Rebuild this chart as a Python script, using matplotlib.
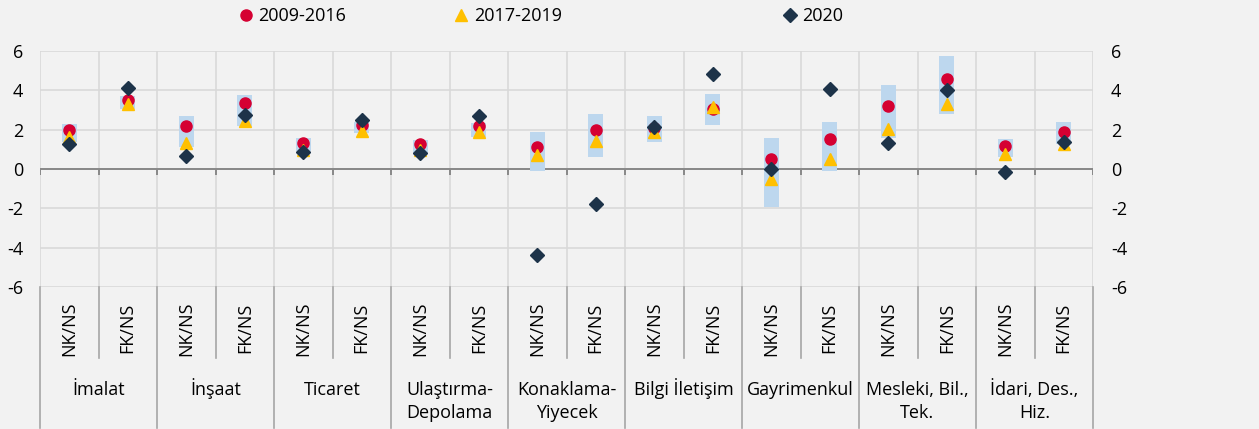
import numpy as np
import matplotlib
matplotlib.use("Agg")
import matplotlib.pyplot as plt
from matplotlib.lines import Line2D
import matplotlib.transforms as mtransforms

plt.rcParams['font.family'] = ['Open Sans', 'DejaVu Sans']
plt.rcParams['axes.unicode_minus'] = False

groups = ['İmalat', 'İnşaat', 'Ticaret', 'Ulaştırma-\nDepolama', 'Konaklama-\nYiyecek',
          'Bilgi İletişim', 'Gayrimenkul', 'Mesleki, Bil.,\nTek.', 'İdari, Des.,\nHiz.']
sub_labels = ['NK/NS', 'FK/NS'] * 9

# 2009-2016 (circle), 2017-2019 (triangle), 2020 (diamond)
s_0916 = [1.98, 3.50, 2.20, 3.36, 1.33, 2.23, 1.27, 2.18, 1.13,
          1.98, 2.06, 3.07, 0.49, 1.54, 3.19, 4.56, 1.18, 1.89]
s_1719 = [1.64, 3.30, 1.30, 2.45, 0.96, 1.93, 0.95, 1.86, 0.71,
          1.44, 1.89, 3.16, -0.51, 0.51, 2.04, 3.33, 0.74, 1.27]
s_2020 = [1.25, 4.14, 0.68, 2.77, 0.88, 2.50, 0.79, 2.69, -4.37,
          -1.76, 2.15, 4.85, -0.02, 4.09, 1.30, 4.00, -0.15, 1.37]
# min-max range band
band_top = [2.31, 3.70, 2.67, 3.78, 1.60, 2.40, 1.50, 2.35, 1.88,
            2.82, 2.67, 3.83, 1.60, 2.40, 4.26, 5.74, 1.55, 2.40]
band_bot = [1.38, 3.07, 1.13, 2.18, 0.93, 1.84, 0.83, 1.64, -0.10,
            0.62, 1.38, 2.23, -1.93, -0.08, 1.60, 2.80, 0.62, 1.27]

bg = '#f2f2f2'
c_red = '#d50032'
c_yel = '#ffc000'
c_nav = '#1d3349'
c_band = '#bdd7ee'
c_grid = '#d9d9d9'
fs = 13

fig = plt.figure(figsize=(12.59, 4.29), dpi=100, facecolor=bg)
ax = fig.add_axes([40/1259, 142/429, 1053/1259, 236/429])
ax.set_facecolor(bg)

x = np.arange(len(s_0916))
bounds = np.arange(-0.5, len(x) + 0.5, 1)

ax.set_xlim(-0.5, len(x) - 0.5)
ax.set_ylim(-6, 6)
ax.set_yticks(range(-6, 7, 2))
for yv in range(-6, 7, 2):
    if yv != 0:
        ax.axhline(yv, color=c_grid, lw=1.2, zorder=0)
for b in bounds:
    ax.axvline(b, color=c_grid, lw=1.2, zorder=0)
ax.axhline(0, color='#888888', lw=1.4, zorder=1)
ax.vlines(bounds, -0.3, 0, color='#888888', lw=1.4, zorder=1)

ax.bar(x, np.array(band_top) - np.array(band_bot), bottom=band_bot,
       width=0.26, color=c_band, zorder=2)
ax.plot(x, s_0916, 'o', color=c_red, ms=8, zorder=3)
ax.plot(x, s_1719, '^', color=c_yel, ms=9, zorder=4)
ax.plot(x, s_2020, 'D', color=c_nav, ms=7.2, zorder=5)

for sp in ax.spines.values():
    sp.set_visible(False)
ax.set_xticks([])
ax.tick_params(axis='y', length=0, labelsize=fs, pad=12, labelcolor='black')

ax2 = ax.twinx()
ax2.set_ylim(-6, 6)
ax2.set_yticks(range(-6, 7, 2))
ax2.tick_params(axis='y', length=0, labelsize=fs, pad=13, labelcolor='black')
for sp in ax2.spines.values():
    sp.set_visible(False)

# category axis below the plot
trans = mtransforms.blended_transform_factory(ax.transData, ax.transAxes)
for i, b in enumerate(bounds):
    low = -0.597 if i % 2 == 0 else -0.30
    ax.plot([b, b], [0, low], color='#a6a6a6', lw=1.2, transform=trans, clip_on=False)
for xi, lab in zip(x, sub_labels):
    ax.text(xi, -0.175, lab, rotation=90, ha='center', va='center',
            fontsize=fs, transform=trans)
for gi, g in enumerate(groups):
    for li, line in enumerate(g.split('\n')):
        ax.text(2 * gi + 0.5, -0.458 - 0.097 * li, line, ha='center', va='baseline',
                fontsize=fs, transform=trans)

# legend entries
entries = [('o', c_red, 8, '2009-2016', 0.191),
           ('^', c_yel, 9, '2017-2019', 0.362),
           ('D', c_nav, 7.2, '2020', 0.623)]
for m, c, s, lab, xpos in entries:
    h = Line2D([], [], marker=m, color=c, ls='', ms=s)
    fig.legend([h], [lab], loc='center left', bbox_to_anchor=(xpos, 0.962),
               frameon=False, fontsize=fs, handlelength=0.6, handletextpad=0.4,
               borderaxespad=0, borderpad=0)

fig.savefig('out.png', dpi=100, facecolor=bg)
